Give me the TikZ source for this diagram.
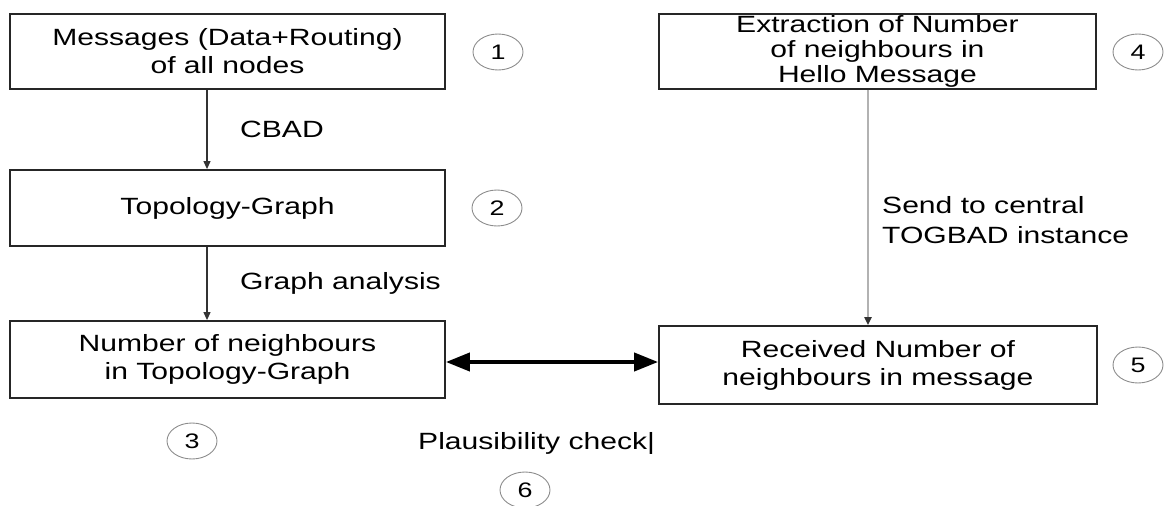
\documentclass[tikz,border=0pt]{standalone}
\usepackage{fontspec}
\setmainfont{Liberation Sans}[FakeStretch=1.28]
\usetikzlibrary{arrows.meta,shapes.geometric}
\begin{document}
\begin{tikzpicture}[x=1pt,y=-1pt,
 box/.style={draw=black!85,line width=1.8pt,inner sep=0pt,align=center,font=\fontsize{23.5}{28}\selectfont},
 num/.style={draw=black!45,line width=0.9pt,ellipse,minimum width=50pt,minimum height=36pt,inner sep=0pt,font=\fontsize{21}{21}\selectfont},
 lbl/.style={inner sep=0pt,anchor=west,align=left,font=\fontsize{23.5}{30}\selectfont},
 thinarr/.style={-{Triangle[length=8pt,width=7pt]},line width=1.1pt,black!80},
 grayarr/.style={-{Triangle[length=8pt,width=7pt,color=black!80]},line width=2pt,black!30},
 bigarr/.style={{Triangle[length=24pt,width=18pt]}-{Triangle[length=24pt,width=18pt]},line width=4pt}]
\useasboundingbox (0,0) rectangle (1165,506);
\node[box,minimum width=435pt,minimum height=75pt] (b1) at (227.5,51.5) {Messages (Data+Routing)\\of all nodes};
\node[box,minimum width=435pt,minimum height=76pt] (b2) at (227.5,208) {Topology-Graph};
\node[box,minimum width=435pt,minimum height=77pt] (b3) at (227.5,359.5) {Number of neighbours\\in Topology-Graph};
\node[box,minimum width=437pt,minimum height=75pt,font=\fontsize{23.5}{25}\selectfont] (b4) at (877.5,51.5) {Extraction of Number\\of neighbours in\\Hello Message};
\node[box,minimum width=438pt,minimum height=78pt] (b5) at (878,365) {Received Number of\\neighbours in message};
\node[num] (n1) at (498,52) {1};
\node[num] (n2) at (497,208) {2};
\node[num] (n3) at (192,441) {3};
\node[num] (n4) at (1138,52) {4};
\node[num] (n5) at (1138,365) {5};
\node[num] (n6) at (525,490) {6};
\draw[thinarr] ([xshift=-20.5pt]b1.south) -- ([xshift=-20.5pt]b2.north);
\draw[thinarr] ([xshift=-20.5pt]b2.south) -- ([xshift=-20.5pt]b3.north);
\draw[grayarr] ([xshift=-9.5pt]b4.south) -- ([xshift=-10pt]b5.north);
\coordinate (mid) at (552,362);
\draw[bigarr] (b3.east |- mid) -- (b5.west |- mid);
\node[lbl] (l1) at (240,129) {CBAD};
\node[lbl] (l2) at (240,283) {Graph analysis};
\node[lbl] (l3) at (882,220) {Send to central\\TOGBAD instance};
\node[lbl] (l4) at (418,443) {Plausibility check|};
\end{tikzpicture}
\end{document}
